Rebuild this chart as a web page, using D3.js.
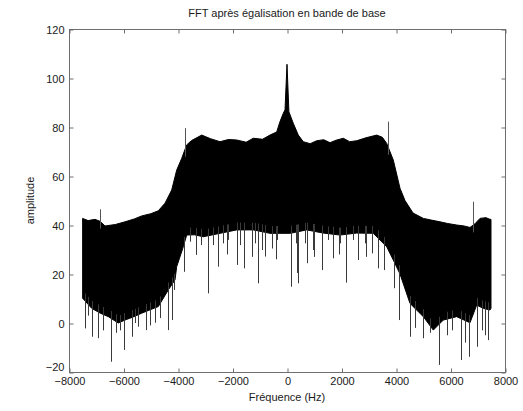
<!DOCTYPE html>
<html>
<head>
<meta charset="utf-8">
<script src="https://cdn.jsdelivr.net/npm/d3@7"></script>
<style>
  html, body { margin: 0; padding: 0; background: #fff; }
  svg { display: block; }
  text { font-family: Arial, "Liberation Sans", sans-serif; fill: #1a1a1a; }
</style>
</head>
<body>
<svg id="chart" width="523" height="411"></svg>
<script>
// ---- Data ----
const title = "FFT après égalisation en bande de base";
const xLabel = "Fréquence (Hz)";
const yLabel = "amplitude";
const xTicks = [-8000, -6000, -4000, -2000, 0, 2000, 4000, 6000, 8000];
const yTicks = [-20, 0, 20, 40, 60, 80, 100, 120];

// Upper envelope of the spectrum [frequency Hz, amplitude]
const upperFreq = [-7500, -7300, -7046, -6860, -6679, -6300, -5945, -5600, -5332, -5000, -4723, -4477, -4231, -4048, -3864, -3681, -3500, -3130, -2800, -2459, -2150, -1846, -1500, -1237, -900, -624, -378, -257, -136, -73, 0, 70, 231, 415, 598, 850, 1090, 1350, 1578, 1800, 2066, 2300, 2558, 2900, 3292, 3500, 3659, 3901, 4147, 4330, 4624, 5002, 5300, 5615, 5900, 6227, 6500, 6715, 6900, 7082, 7300, 7449, 7486];
const upperVal  = [42.7, 41.8, 42.3, 41.5, 39.6, 40.2, 41.3, 42.5, 43.7, 44.6, 45.8, 48.9, 54.3, 62.4, 67.2, 72.7, 74.5, 76.7, 75.2, 74.0, 74.9, 74.7, 73.8, 75.4, 75.0, 76.7, 78.0, 82.2, 85.6, 87.0, 105.6, 86.2, 81.5, 76.7, 74.0, 73.2, 74.4, 74.8, 73.6, 74.6, 75.4, 74.0, 74.4, 75.6, 76.7, 75.8, 73.3, 66.5, 55.0, 50.0, 44.9, 42.7, 42.0, 41.3, 40.6, 40.0, 39.6, 39.0, 40.5, 42.7, 43.0, 42.3, 42.3];

// Lower envelope of the dense part of the spectrum [frequency Hz, amplitude]
const lowerFreq = [-7500, -7167, -6850, -6558, -6191, -5945, -5640, -5332, -5000, -4723, -4356, -4110, -4048, -3806, -3681, -3400, -3072, -2459, -1846, -1237, -624, 110, 723, 1332, 1945, 2558, 3167, 3659, 3901, 4147, 4514, 5002, 5369, 5736, 6227, 6715, 6961, 7200, 7449, 7486];
const lowerVal  = [10.1, 6.0, 4.0, 2.6, 0.0, 1.2, 2.5, 4.0, 5.5, 6.7, 13.5, 17.6, 23.0, 31.1, 35.9, 36.0, 35.2, 36.6, 38.0, 38.0, 36.6, 36.6, 38.0, 36.7, 35.9, 36.7, 36.6, 31.1, 25.7, 20.0, 8.0, 2.6, -2.9, 1.2, 2.6, 0.1, 7.3, 6.0, 5.3, 6.0];

// Isolated downward spikes [frequency Hz, minimum amplitude]
const downSpikeFreq = [-7413, -7303, -7167, -6947, -6752, -6459, -6276, -6129, -5971, -5699, -5578, -5457, -5174, -5028, -4844, -4661, -4356, -4231, -4147, -3780, -3560, -3340, -3167, -2910, -2704, -2543, -2337, -2200, -2154, -1846, -1725, -1578, -1300, -1174, -1075, -928, -807, -561, -400, -378, 147, 330, 360, 415, 660, 723, 965, 1000, 1273, 1516, 1677, 1900, 1945, 2154, 2433, 2616, 2862, 2900, 3108, 3328, 3571, 3938, 4121, 4514, 4697, 5002, 5248, 5589, 5872, 6056, 6374, 6532, 6690, 6983, 7156, 7266, 7387];
const downSpikeVal  = [-2.2, 3.0, -5.6, -6.2, -3.0, -15.8, -4.0, -3.0, -11.0, -5.6, 0.0, -1.5, -2.9, -1.0, 0.1, 2.0, -2.9, 1.2, 13.5, 20.9, 33.2, 27.8, 31.8, 12.1, 31.8, 23.0, 32.5, 28.0, 33.9, 23.7, 31.8, 22.3, 27.0, 32.5, 16.2, 29.8, 27.1, 30.4, 26.0, 33.9, 14.8, 32.5, 20.4, 16.2, 32.5, 24.4, 29.8, 27.0, 21.6, 33.9, 26.4, 28.0, 32.5, 16.5, 33.9, 25.7, 32.5, 27.0, 28.4, 22.3, 21.6, 14.2, 1.2, -5.6, -2.0, -6.2, -4.0, -17.1, -5.0, -3.0, -15.1, -8.0, -13.8, -9.7, -3.0, -5.0, -7.0];

// Isolated upward spikes [frequency Hz, maximum amplitude]
const upSpikeFreq = [-6862, -3743, 3718, 6837];
const upSpikeVal  = [46.4, 79.5, 82.2, 49.5];

// ---- Drawing ----
const svg = d3.select("#chart");
const x = d3.scaleLinear().domain([-8000, 8000]).range([69, 505]);
const y = d3.scaleLinear().domain([-20, 120]).range([372, 29]);

const upper = upperFreq.map((f, i) => [f, upperVal[i]]);
const lower = lowerFreq.map((f, i) => [f, lowerVal[i]]);

// helper: envelope value at frequency (linear between read points)
function envAt(env, f) {
  const fs = env.map(d => d[0]);
  const i = Math.max(1, Math.min(env.length - 1, d3.bisectLeft(fs, f)));
  const a = env[i - 1], b = env[i];
  const t = (f - a[0]) / (b[0] - a[0]);
  return a[1] + (b[1] - a[1]) * Math.max(0, Math.min(1, t));
}

// filled band between lower and upper envelopes
const band = upper.concat(lower.slice().reverse());
svg.append("path")
  .attr("d", d3.line().x(d => x(d[0])).y(d => y(d[1]))(band) + "Z")
  .attr("fill", "#000")
  .attr("stroke", "#000")
  .attr("stroke-width", 1)
  .attr("stroke-linejoin", "miter");

// downward spikes
svg.append("g").selectAll("line")
  .data(downSpikeFreq.map((f, i) => [f, downSpikeVal[i]]))
  .join("line")
  .attr("x1", d => Math.round(x(d[0])) + 0.5)
  .attr("x2", d => Math.round(x(d[0])) + 0.5)
  .attr("y1", d => y(envAt(lower, d[0]) + 3))
  .attr("y2", d => y(d[1]))
  .attr("stroke", "#3a3a3a")
  .attr("stroke-width", 1);

// upward spikes
svg.append("g").selectAll("line")
  .data(upSpikeFreq.map((f, i) => [f, upSpikeVal[i]]))
  .join("line")
  .attr("x1", d => Math.round(x(d[0])) + 0.5)
  .attr("x2", d => Math.round(x(d[0])) + 0.5)
  .attr("y1", d => y(envAt(upper, d[0]) - 3))
  .attr("y2", d => y(d[1]))
  .attr("stroke", "#555")
  .attr("stroke-width", 1);

// axes box
const axisColor = "#6e6e6e";
const [x0, x1] = x.range(), [y0, y1] = y.range();
svg.append("rect")
  .attr("x", x0 + 0.5).attr("y", y1 + 0.5)
  .attr("width", x1 - x0).attr("height", y0 - y1)
  .attr("fill", "none").attr("stroke", axisColor).attr("stroke-width", 1);

// bottom axis (ticks inward) and top ticks
const xAxis = svg.append("g").attr("transform", `translate(0.5,${y0 + 0.5})`)
  .call(d3.axisBottom(x).tickValues(xTicks).tickSize(-4).tickPadding(6).tickFormat(d3.format("d")));
const xAxisTop = svg.append("g").attr("transform", `translate(0.5,${y1 + 0.5})`)
  .call(d3.axisTop(x).tickValues(xTicks).tickSize(-4).tickFormat(""));
const yAxis = svg.append("g").attr("transform", `translate(${x0 + 0.5},0.5)`)
  .call(d3.axisLeft(y).tickValues(yTicks).tickSize(-4).tickPadding(6).tickFormat(d3.format("d")));
const yAxisRight = svg.append("g").attr("transform", `translate(${x1 + 0.5},0.5)`)
  .call(d3.axisRight(y).tickValues(yTicks).tickSize(-4).tickFormat(""));

[xAxis, xAxisTop, yAxis, yAxisRight].forEach(g => {
  g.select(".domain").remove();
  g.selectAll(".tick line").attr("stroke", axisColor);
  g.selectAll(".tick text").attr("font-size", 11).attr("fill", "#1a1a1a")
    .attr("font-family", "Arial, 'Liberation Sans', sans-serif");
});
xAxis.selectAll(".tick text").attr("dy", "0.55em").attr("y", 6);
yAxis.selectAll(".tick text").attr("x", -5);
// the lowest y label sits just above the x tick labels, as in the reference
yAxis.selectAll(".tick text").filter(d => d === -20).attr("dy", "-0.2em");

// title and labels
svg.append("text").attr("x", (x0 + x1) / 2).attr("y", 17)
  .attr("text-anchor", "middle").attr("font-size", 11).text(title);
svg.append("text").attr("x", (x0 + x1) / 2).attr("y", 401)
  .attr("text-anchor", "middle").attr("font-size", 11).text(xLabel);
svg.append("text")
  .attr("transform", `translate(34,${(y0 + y1) / 2}) rotate(-90)`)
  .attr("text-anchor", "middle").attr("font-size", 11).text(yLabel);
</script>
</body>
</html>
